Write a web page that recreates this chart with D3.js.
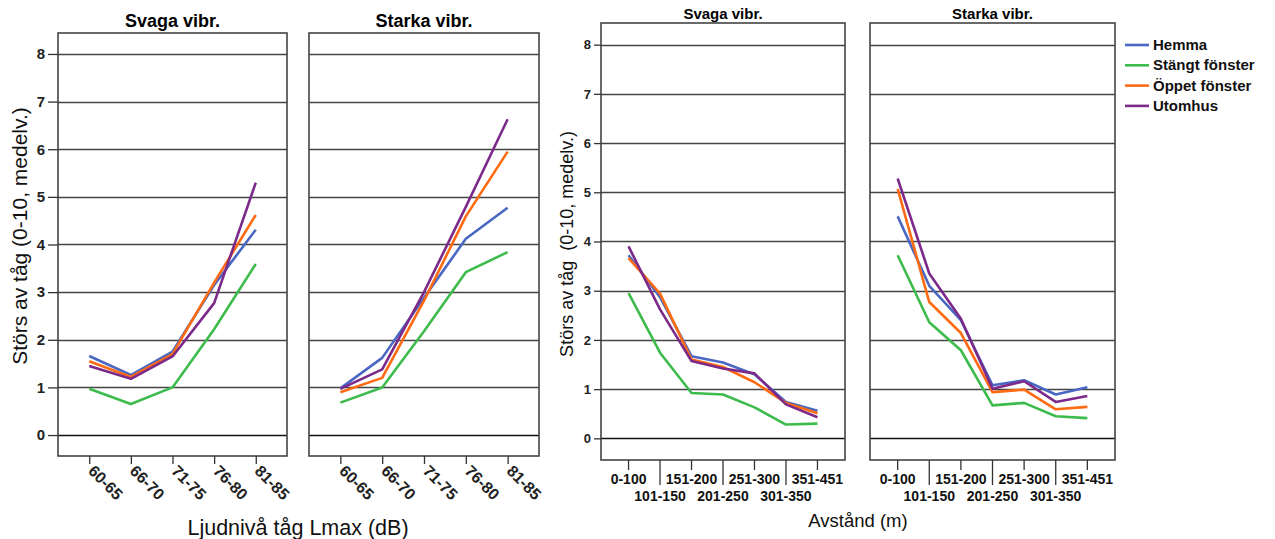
<!DOCTYPE html>
<html><head><meta charset="utf-8">
<script src="https://cdn.jsdelivr.net/npm/d3@7"></script>
<style>body{margin:0;background:#fff}svg{display:block}text{font-family:"Liberation Sans",Arial,sans-serif}</style>
</head><body><svg id="c" width="1275" height="539"></svg>
<script>
// ---- Data ----
const seriesNames = ["Hemma", "Stängt fönster", "Öppet fönster", "Utomhus"];
const ljudCats = ["60-65", "66-70", "71-75", "76-80", "81-85"];
const avstCats = ["0-100", "101-150", "151-200", "201-250", "251-300", "301-350", "351-451"];
const yTicks = [0, 1, 2, 3, 4, 5, 6, 7, 8];
const panelTitles = ["Svaga vibr.", "Starka vibr."];

// Left chart: by noise level, weak vibrations
const ljudSvagaHemma   = [1.66, 1.26, 1.75, 3.15, 4.31];
const ljudSvagaStangt  = [0.97, 0.65, 1.00, 2.22, 3.59];
const ljudSvagaOppet   = [1.55, 1.22, 1.70, 3.20, 4.62];
const ljudSvagaUtomhus = [1.45, 1.18, 1.65, 2.77, 5.30];
// Left chart: by noise level, strong vibrations
const ljudStarkaHemma   = [0.98, 1.62, 2.88, 4.12, 4.77];
const ljudStarkaStangt  = [0.68, 1.00, 2.18, 3.42, 3.84];
const ljudStarkaOppet   = [0.90, 1.20, 2.82, 4.59, 5.95];
const ljudStarkaUtomhus = [0.97, 1.38, 3.00, 4.79, 6.63];
// Right chart: by distance, weak vibrations
const avstSvagaHemma   = [3.72, 2.87, 1.67, 1.54, 1.30, 0.74, 0.56];
const avstSvagaStangt  = [2.95, 1.74, 0.92, 0.89, 0.63, 0.28, 0.30];
const avstSvagaOppet   = [3.66, 2.94, 1.60, 1.45, 1.14, 0.72, 0.51];
const avstSvagaUtomhus = [3.90, 2.62, 1.57, 1.42, 1.32, 0.69, 0.43];
// Right chart: by distance, strong vibrations
const avstStarkaHemma   = [4.51, 3.10, 2.40, 1.08, 1.18, 0.89, 1.04];
const avstStarkaStangt  = [3.72, 2.36, 1.79, 0.67, 0.72, 0.45, 0.41];
const avstStarkaOppet   = [5.07, 2.77, 2.14, 0.94, 0.99, 0.59, 0.64];
const avstStarkaUtomhus = [5.28, 3.35, 2.43, 1.01, 1.16, 0.74, 0.86];

const colors = ["#4a67c2", "#3dbb4c", "#ff6b12", "#7b2a8a"];

const svg = d3.select("#c");

function drawPanel(o) {
  const g = svg.append("g");
  const x = d3.scalePoint().domain(o.cats).range([o.x0, o.x1]).padding(o.pad);
  const y = d3.scaleLinear().domain([-0.44, 8.44]).range([o.y1, o.y0]);
  // grid
  g.selectAll("line.grid").data(yTicks).enter().append("line")
    .attr("x1", o.x0).attr("x2", o.x1)
    .attr("y1", d => Math.round(y(d)) + 0.5).attr("y2", d => Math.round(y(d)) + 0.5)
    .attr("stroke", d => d === 0 ? "#111" : "#444").attr("stroke-width", 1.3);
  // frame
  g.append("rect").attr("x", o.x0).attr("y", o.y0).attr("width", o.x1 - o.x0).attr("height", o.y1 - o.y0)
    .attr("fill", "none").attr("stroke", "#444").attr("stroke-width", 1.6);
  // lines
  const line = d3.line().x((d, i) => x(o.cats[i])).y(d => y(d));
  o.series.forEach((s, i) => {
    g.append("path").attr("d", line(s)).attr("fill", "none")
      .attr("stroke", colors[i]).attr("stroke-width", 2.6).attr("stroke-linejoin", "round");
  });
  // title
  g.append("text").attr("x", (o.x0 + o.x1) / 2).attr("y", o.titleY).attr("text-anchor", "middle")
    .attr("font-weight", "bold").attr("font-size", o.titleSize).text(o.title);
  // y axis
  if (o.yAxis) {
    const ya = d3.axisLeft(y).tickValues(yTicks).tickSize(o.yTick).tickPadding(3);
    const ag = g.append("g").attr("transform", `translate(${o.x0},0)`).call(ya);
    ag.select(".domain").remove();
    ag.selectAll(".tick line").attr("stroke", "#333").attr("stroke-width", 1.3);
    ag.selectAll(".tick text").attr("font-size", o.yFont).attr("font-weight", "bold")
      .attr("font-family", "'Liberation Sans Narrow','Liberation Sans',Arial,sans-serif").attr("fill", "#222");
  }
  return {g, x, y};
}

// Left chart
const leftPanels = [
  {x0: 58, x1: 287, series: [ljudSvagaHemma, ljudSvagaStangt, ljudSvagaOppet, ljudSvagaUtomhus], yAxis: true, title: panelTitles[0]},
  {x0: 309, x1: 539, series: [ljudStarkaHemma, ljudStarkaStangt, ljudStarkaOppet, ljudStarkaUtomhus], yAxis: false, title: panelTitles[1]}
];
leftPanels.forEach(p => {
  const r = drawPanel(Object.assign({cats: ljudCats, pad: 0.75, y0: 33, y1: 456, titleY: 27, titleSize: 18, yTick: 10, yFont: 15}, p));
  const xa = d3.axisBottom(r.x).tickSize(8).tickFormat("");
  const ag = r.g.append("g").attr("transform", "translate(0,456)").call(xa);
  ag.select(".domain").remove();
  ag.selectAll(".tick line").attr("stroke", "#333").attr("stroke-width", 1.3);
  r.g.selectAll("text.xl").data(ljudCats).enter().append("text")
    .attr("transform", d => `translate(${r.x(d) - 2},${472}) rotate(45)`)
    .attr("font-size", 16).attr("font-weight", "bold").attr("fill", "#222")
    .text(d => d);
});
svg.append("text").attr("transform", "translate(27,236) rotate(-90)").attr("text-anchor", "middle")
  .attr("font-size", 21).attr("fill", "#111").text("Störs av tåg (0-10, medelv.)");
svg.append("text").attr("x", 298).attr("y", 535).attr("text-anchor", "middle")
  .attr("font-size", 21.5).attr("fill", "#111").text("Ljudnivå tåg Lmax (dB)");

// Right chart
const rightPanels = [
  {x0: 601, x1: 845, series: [avstSvagaHemma, avstSvagaStangt, avstSvagaOppet, avstSvagaUtomhus], yAxis: true, title: panelTitles[0]},
  {x0: 870, x1: 1115, series: [avstStarkaHemma, avstStarkaStangt, avstStarkaOppet, avstStarkaUtomhus], yAxis: false, title: panelTitles[1]}
];
rightPanels.forEach(p => {
  const r = drawPanel(Object.assign({cats: avstCats, pad: 0.875, y0: 23, y1: 460, titleY: 19, titleSize: 15, yTick: 7, yFont: 13}, p));
  const ag = r.g.append("g").attr("transform", "translate(0,460)");
  ag.selectAll("line").data(avstCats).enter().append("line")
    .attr("x1", d => r.x(d)).attr("x2", d => r.x(d)).attr("y1", 0)
    .attr("y2", (d, i) => i % 2 === 0 ? 10 : 25).attr("stroke", "#333").attr("stroke-width", 1.3);
  ag.selectAll("text").data(avstCats).enter().append("text")
    .attr("x", d => r.x(d)).attr("y", (d, i) => i % 2 === 0 ? 23.5 : 40.5)
    .attr("text-anchor", "middle").attr("font-size", 14).attr("font-weight", "bold").attr("fill", "#111")
    .text(d => d);
});
svg.append("text").attr("transform", "translate(573,244) rotate(-90)").attr("text-anchor", "middle")
  .attr("font-size", 18).attr("fill", "#111").attr("xml:space", "preserve").text("Störs av tåg  (0-10, medelv.)");
svg.append("text").attr("x", 858).attr("y", 527).attr("text-anchor", "middle")
  .attr("font-size", 18.5).attr("fill", "#111").text("Avstånd (m)");

// Legend
const lg = svg.append("g").attr("transform", "translate(1125,45)");
seriesNames.forEach((n, i) => {
  lg.append("line").attr("x1", 0).attr("x2", 24).attr("y1", i * 20.3).attr("y2", i * 20.3)
    .attr("stroke", colors[i]).attr("stroke-width", 2.6);
  lg.append("text").attr("x", 28).attr("y", i * 20.3 + 5).attr("font-size", 15).attr("font-weight", "bold")
    .attr("fill", "#111").text(n);
});
</script></body></html>
